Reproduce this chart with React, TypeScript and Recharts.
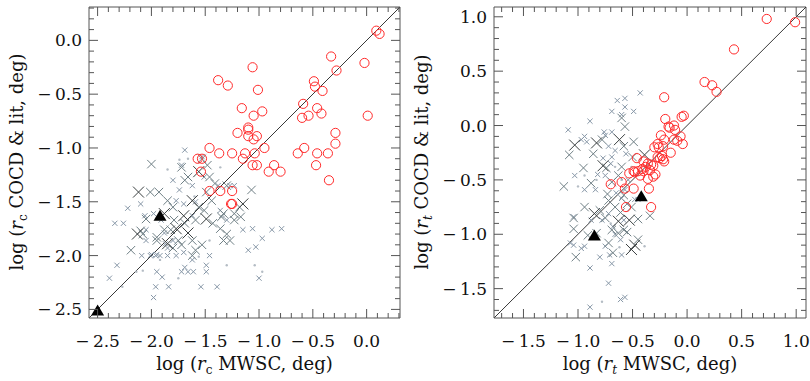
import { ScatterChart, Scatter, XAxis, YAxis, ReferenceLine } from 'recharts'

// ---- left panel: core radius r_c ----
const rcDomain = [-2.58, 0.31]
const rcTicks = [-2.5, -2.4, -2.3, -2.2, -2.1, -2.0, -1.9, -1.8, -1.7, -1.6, -1.5, -1.4, -1.3, -1.2, -1.1, -1.0,
  -0.9, -0.8, -0.7, -0.6, -0.5, -0.4, -0.3, -0.2, -0.1, 0.0, 0.1, 0.2, 0.3]

const rcCircles = [
  [0.09, 0.09], [0.12, 0.06], [-0.33, -0.15], [-0.02, -0.21], [-0.28, -0.28], [-1.06, -0.25], [-1.38, -0.37],
  [-1.29, -0.42], [-0.49, -0.38], [-0.48, -0.43], [-0.41, -0.47], [-1.01, -0.46], [-0.59, -0.59], [-0.46, -0.63],
  [-1.16, -0.63], [-0.97, -0.66], [-1.05, -0.70], [-0.60, -0.72], [-0.54, -0.70], [-0.42, -0.68], [0.01, -0.70],
  [-1.10, -0.81], [-1.10, -0.83], [-1.20, -0.86], [-1.02, -0.89], [-1.10, -0.89], [-1.05, -0.92], [-0.29, -0.86],
  [-0.29, -0.96], [-1.46, -1.00], [-1.37, -1.05], [-1.25, -1.05], [-1.13, -1.05], [-1.04, -1.05], [-0.95, -1.00],
  [-0.58, -1.00], [-0.64, -1.05], [-0.46, -1.05], [-0.36, -1.05], [-1.57, -1.10], [-1.53, -1.10], [-1.15, -1.10],
  [-1.06, -1.16], [-1.02, -1.16], [-0.86, -1.16], [-0.47, -1.16], [-1.54, -1.22], [-0.91, -1.22], [-0.80, -1.22],
  [-0.35, -1.30], [-1.46, -1.40], [-1.36, -1.40], [-1.25, -1.40], [-1.26, -1.52], [-1.25, -1.52],
]
const rcBigX = [
  [-2.12, -1.41], [-2.13, -1.80], [-1.85, -1.89], [-1.77, -1.75], [-1.66, -1.79], [-1.49, -1.66], [-1.70, -1.63],
  [-1.62, -1.49], [-1.56, -1.22], [-1.15, -1.52], [-1.88, -1.61],
]
const rcMidX = [
  [-2.00, -1.15], [-2.01, -1.41], [-1.93, -1.41], [-2.05, -1.66], [-2.19, -1.95], [-1.72, -1.18], [-1.66, -1.27],
  [-1.53, -1.10], [-1.48, -1.16], [-1.46, -1.27], [-1.41, -1.33], [-1.49, -1.41], [-1.56, -1.55], [-1.44, -1.49],
  [-1.51, -1.58], [-1.85, -1.49], [-1.80, -1.55], [-1.79, -1.67], [-1.88, -1.76], [-1.69, -1.70], [-1.59, -1.67],
  [-1.62, -1.86], [-1.72, -1.90], [-1.80, -1.93], [-1.59, -1.95], [-1.53, -1.90], [-1.36, -1.75], [-1.30, -1.80],
  [-1.33, -1.86], [-1.27, -1.86], [-1.23, -1.61], [-1.18, -1.55], [-1.17, -1.64], [-1.62, -2.00], [-1.95, -1.86],
  [-2.08, -1.80], [-1.95, -1.83], [-1.33, -1.61], [-1.43, -1.70], [-1.07, -1.39], [-1.30, -1.35], [-2.10, -1.77],
  [-1.82, -1.76], [-1.69, -1.30], [-1.35, -1.64], [-1.23, -1.67], [-1.75, -1.86],
]
const rcSmallX = [
  [-1.72, -1.16], [-1.80, -1.30], [-1.69, -1.02], [-1.53, -1.08], [-1.38, -1.35], [-1.27, -1.35], [-1.74, -1.39],
  [-2.10, -1.52], [-2.22, -1.56], [-2.34, -1.70], [-2.26, -1.70], [-2.06, -1.63], [-1.98, -1.61], [-2.05, -1.76],
  [-2.32, -2.09], [-2.39, -2.21], [-2.09, -2.00], [-2.01, -2.00], [-1.96, -2.00], [-1.87, -1.89], [-1.85, -2.00],
  [-1.95, -2.15], [-1.90, -2.20], [-1.96, -2.29], [-1.84, -2.29], [-1.98, -2.39], [-1.77, -2.00], [-1.69, -2.11],
  [-1.66, -2.15], [-1.72, -2.15], [-1.61, -2.15], [-1.49, -2.15], [-1.49, -2.09], [-1.54, -2.29], [-1.39, -2.29],
  [-1.62, -2.04], [-1.46, -2.00], [-1.15, -1.76], [-1.06, -1.75], [-1.10, -1.95], [-0.97, -1.84], [-1.03, -1.92],
  [-0.88, -1.76], [-0.79, -1.75], [-1.00, -2.21], [-1.23, -1.35], [-1.36, -1.58], [-1.30, -1.67], [-1.77, -1.49],
  [-1.62, -1.35], [-1.51, -1.27], [-1.70, -1.52], [-1.59, -1.50], [-1.88, -1.79], [-1.80, -1.86], [-1.70, -1.97],
  [-1.85, -1.93], [-2.05, -1.86], [-1.62, -1.63], [-1.91, -1.67], [-1.95, -1.99], [-2.00, -1.99], [-1.92, -2.00],
]
const rcDots = [
  [-2.27, -2.29], [-2.14, -2.15], [-1.75, -2.21], [-1.33, -1.64], [-0.97, -2.15], [-1.36, -1.18], [-1.66, -1.10],
  [-1.74, -1.11], [-1.56, -2.01], [-1.04, -2.09], [-1.30, -2.09], [-2.08, -2.14], [-1.92, -2.04], [-1.46, -1.86],
  [-1.85, -1.20], [-1.60, -1.45],
]
const rcTriangles = [[-2.50, -2.52], [-1.92, -1.64]]

// ---- right panel: tidal radius r_t ----
const rtDomain = [-1.77, 1.09]
const rtTicks = [-1.7, -1.6, -1.5, -1.4, -1.3, -1.2, -1.1, -1.0, -0.9, -0.8, -0.7, -0.6, -0.5, -0.4, -0.3, -0.2,
  -0.1, 0.0, 0.1, 0.2, 0.3, 0.4, 0.5, 0.6, 0.7, 0.8, 0.9, 1.0]

const rtCircles = [
  [0.73, 0.98], [0.99, 0.95], [0.43, 0.70], [0.16, 0.40], [0.23, 0.37], [0.27, 0.31], [-0.21, 0.26], [-0.20, 0.06],
  [-0.05, 0.08], [-0.03, 0.09], [-0.16, -0.02], [-0.12, 0.00], [-0.11, -0.04], [-0.17, -0.01], [-0.24, -0.09],
  [-0.06, -0.10], [-0.21, -0.13], [-0.12, -0.13], [-0.09, -0.14], [-0.04, -0.17], [-0.27, -0.17], [-0.22, -0.19],
  [-0.15, -0.25], [-0.23, -0.28], [-0.22, -0.31], [-0.21, -0.33], [-0.46, -0.30], [-0.36, -0.35], [-0.40, -0.33],
  [-0.38, -0.38], [-0.31, -0.37], [-0.29, -0.45], [-0.45, -0.42], [-0.49, -0.42], [-0.53, -0.44], [-0.48, -0.43],
  [-0.31, -0.47], [-0.70, -0.54], [-0.60, -0.52], [-0.49, -0.58], [-0.35, -0.58], [-0.56, -0.75], [-0.33, -0.75],
  [-0.57, -0.58], [-0.34, -0.41], [-0.41, -0.40], [-0.43, -0.46], [-0.36, -0.49], [-0.26, -0.20], [-0.30, -0.20],
  [-0.33, -0.36], [-0.27, -0.29], [-0.40, -0.42], [-0.25, -0.30],
]
const rtBigX = [
  [-1.03, -0.18], [-0.62, -0.13], [-0.77, -0.37], [-0.83, -0.16], [-0.39, -0.27], [-0.53, -0.87],
  [-0.48, -1.10], [-0.63, -0.88], [-0.85, -0.81], [-0.51, -1.14],
]
const rtMidX = [
  [-1.13, -0.56], [-1.08, -0.27], [-1.04, -0.85], [-1.04, -0.95], [-1.02, -1.21], [-0.95, -0.39], [-0.94, -0.75],
  [-0.86, -0.26], [-0.74, -0.39], [-0.69, -0.52], [-0.72, -0.69], [-0.66, -0.75], [-0.58, -0.64], [-0.55, -0.72],
  [-0.63, -0.99], [-0.69, -0.96], [-0.75, -0.85], [-0.80, -0.78], [-0.57, -0.01], [-0.60, 0.07], [-0.50, -0.29],
  [-0.58, -0.19], [-0.60, -0.38], [-0.63, -0.46], [-0.88, -0.53], [-0.78, -0.13], [-0.34, -0.83], [-0.55, -0.98],
  [-0.45, -1.05], [-0.83, -0.99], [-0.91, -1.01], [-0.68, -1.17], [-0.61, -0.80], [-0.73, -0.63], [-0.51, -0.75],
  [-0.49, -0.15], [-0.45, -0.86], [-0.58, -0.96], [-0.72, -1.08],
]
const rtSmallX = [
  [-1.09, -0.04], [-0.94, -0.10], [-0.92, -0.15], [-0.75, -0.09], [-0.72, -0.19], [-0.69, -0.06], [-0.64, 0.23],
  [-0.57, 0.25], [-0.57, 0.17], [-0.69, 0.13], [-0.60, 0.10], [-0.49, 0.13], [-0.43, 0.30], [-0.89, 0.04],
  [-0.76, -0.06], [-0.97, -0.13], [-0.69, -0.29], [-0.77, -0.30], [-0.75, -0.46], [-1.03, -0.46], [-0.94, -0.59],
  [-0.84, -0.59], [-0.65, -0.62], [-0.57, -0.59], [-0.54, -0.50], [-1.04, -1.10], [-0.97, -1.13], [-0.80, -1.21],
  [-0.71, -1.19], [-0.60, -1.19], [-0.89, -1.31], [-0.72, -1.45], [-0.89, -1.67], [-0.61, -1.60], [-0.57, -1.58],
  [-0.69, -1.27], [-0.88, -0.87], [-0.78, -0.87], [-0.68, -0.93], [-0.61, -1.05], [-0.58, -0.87], [-0.75, -1.11],
  [-0.94, -1.11], [-0.45, -0.68], [-1.04, -0.84], [-1.07, -1.08], [-0.60, -0.67], [-0.48, -0.68], [-0.66, -0.23],
  [-0.56, -0.26], [-0.70, -0.35], [-0.82, -0.45], [-0.66, -1.00], [-0.72, -0.81],
]
const rtDots = [
  [-0.78, -1.62], [-0.39, -1.11], [-0.94, -0.46], [-0.83, -0.50], [-0.60, -0.50], [-1.00, -0.56], [-0.66, -0.38],
  [-0.51, -0.38], [-0.70, -0.90], [-0.62, -1.12],
]
const rtTriangles = [[-0.85, -1.02], [-0.42, -0.66]]

const FONT = '"DejaVu Serif", serif'
const AXIS = '#555'
const RED = '#ff2a2a'
const PLOT_TOP = 7

const toPts = (a: number[][]) => a.map(([x, y]) => ({ x, y }))
const isMajor = (v: number) => Math.abs(v * 2 - Math.round(v * 2)) < 1e-6
const fmt = (v: number) =>
  Math.abs(v) < 1e-9 ? '0.0' : v < 0 ? `\u2212\u2009${Math.abs(v).toFixed(1)}` : v.toFixed(1)

function XTick({ x, y, payload }: any) {
  const major = isMajor(payload.value)
  const len = major ? 9 : 5
  return (
    <g>
      <line x1={x} y1={y} x2={x} y2={y - len} stroke={AXIS} />
      <line x1={x} y1={PLOT_TOP} x2={x} y2={PLOT_TOP + len} stroke={AXIS} />
      {major && (
        <text x={x} y={y + 29} textAnchor="middle" fontFamily={FONT} fontSize={17} fill="#111">
          {fmt(payload.value)}
        </text>
      )}
    </g>
  )
}

const makeYTick = (right: number) =>
  function YTick({ x, y, payload }: any) {
    const major = isMajor(payload.value)
    const len = major ? 9 : 5
    return (
      <g>
        <line x1={x} y1={y} x2={x + len} y2={y} stroke={AXIS} />
        <line x1={right} y1={y} x2={right - len} y2={y} stroke={AXIS} />
        {major && (
          <text x={x - 7} y={y + 6} textAnchor="end" fontFamily={FONT} fontSize={17} fill="#111">
            {fmt(payload.value)}
          </text>
        )}
      </g>
    )
  }

function Title({ sub, subItalic, rest, tx, ty, rotate }: any) {
  return (
    <text x={tx} y={ty} textAnchor="middle" fontFamily={FONT} fontSize={18} fill="#111"
      transform={rotate ? `rotate(-90 ${tx} ${ty})` : undefined}>
      log (<tspan fontStyle="italic">r</tspan>
      <tspan fontSize={12} dy={4} fontStyle={subItalic ? 'italic' : 'normal'}>{sub}</tspan>
      <tspan dy={-4}> {rest}, deg)</tspan>
    </text>
  )
}

const OpenCircle = ({ cx, cy }: any) => <circle cx={cx} cy={cy} r={4.6} fill="none" stroke={RED} strokeWidth={1} />
const mkX = (h: number, color: string, w: number) => ({ cx, cy }: any) => (
  <path d={`M${cx - h},${cy - h}L${cx + h},${cy + h}M${cx - h},${cy + h}L${cx + h},${cy - h}`} stroke={color} strokeWidth={w} />
)
const BigX = mkX(5.5, '#3a3f40', 1)
const MidX = mkX(4.2, '#6f7f85', 1)
const SmallX = mkX(2.6, '#8797a7', 1)
const Dot = ({ cx, cy }: any) => <circle cx={cx} cy={cy} r={1.2} fill="#b4bcc4" />
const Tri = ({ cx, cy }: any) => <path d={`M${cx},${cy - 7}L${cx + 6.5},${cy + 4}L${cx - 6.5},${cy + 4}Z`} fill="#000" />

function Panel({ domain, ticks, circles, bigX, midX, smallX, dots, tris, sub, subItalic, plotW }: any) {
  const [lo, hi] = domain
  const right = 89 + plotW
  const YTick = makeYTick(right)
  return (
    <div style={{ position: 'relative' }}>
      <ScatterChart width={405} height={381} margin={{ top: PLOT_TOP, right: 405 - right, left: 0, bottom: 0 }}>
        <XAxis type="number" dataKey="x" domain={[lo, hi]} ticks={ticks} interval={0} allowDataOverflow
          height={63} tickSize={0} tickMargin={0} tick={<XTick />} stroke={AXIS}
          label={<Title sub={sub} subItalic={subItalic} rest="MWSC" tx={89 + plotW / 2} ty={370} />} />
        <YAxis type="number" dataKey="y" domain={[lo, hi]} ticks={ticks} interval={0} allowDataOverflow
          width={89} tickSize={0} tickMargin={0} tick={<YTick />} stroke={AXIS}
          label={<Title sub={sub} subItalic={subItalic} rest="COCD & lit" tx={23} ty={162} rotate />} />
        <ReferenceLine y={hi} stroke={AXIS} ifOverflow="visible" />
        <ReferenceLine x={hi} stroke={AXIS} ifOverflow="visible" />
        <ReferenceLine segment={[{ x: lo, y: lo }, { x: hi, y: hi }]} stroke="#222" strokeWidth={0.9} />
        <Scatter data={toPts(dots)} shape={Dot} isAnimationActive={false} />
        <Scatter data={toPts(smallX)} shape={SmallX} isAnimationActive={false} />
        <Scatter data={toPts(midX)} shape={MidX} isAnimationActive={false} />
        <Scatter data={toPts(bigX)} shape={BigX} isAnimationActive={false} />
        <Scatter data={toPts(circles)} shape={OpenCircle} isAnimationActive={false} />
        <Scatter data={toPts(tris)} shape={Tri} isAnimationActive={false} />
      </ScatterChart>
    </div>
  )
}

export default function App() {
  return (
    <div style={{ position: 'absolute', left: 0, top: 0, width: 810, height: 381, background: '#fff', display: 'flex' }}>
      <Panel domain={rcDomain} ticks={rcTicks} circles={rcCircles} bigX={rcBigX} midX={rcMidX} smallX={rcSmallX}
        dots={rcDots} tris={rcTriangles} sub="c" subItalic={false} plotW={311} />
      <Panel domain={rtDomain} ticks={rtTicks} circles={rtCircles} bigX={rtBigX} midX={rtMidX} smallX={rtSmallX}
        dots={rtDots} tris={rtTriangles} sub="t" subItalic plotW={312} />
    </div>
  )
}
